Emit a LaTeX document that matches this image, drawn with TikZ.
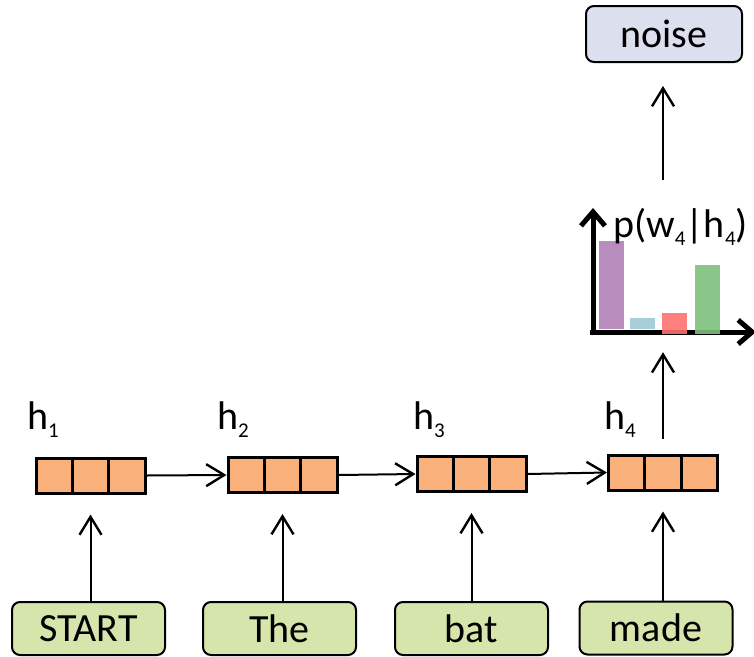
\documentclass[tikz,border=0pt]{standalone}
\usepackage{fontspec}
\setmainfont{Carlito}
\usetikzlibrary{arrows.meta,calc}

\definecolor{vecfill}{HTML}{F9B07B}
\definecolor{wordfill}{HTML}{D6E5AB}
\definecolor{outfill}{HTML}{DCDFEE}
\definecolor{barpurple}{HTML}{B080B5}
\definecolor{barblue}{HTML}{9CCAD4}
\definecolor{barred}{HTML}{FF7070}
\definecolor{bargreen}{HTML}{7DC07D}

\newcommand\lowidx[1]{\raisebox{-8pt}{\fontsize{21}{24}\selectfont #1}}

\tikzset{
  big/.style={font=\fontsize{40}{48}\selectfont},
  word/.style={big, draw, line width=2, rounded corners=8, fill=wordfill,
    minimum width=153, minimum height=53, inner sep=0},
  outword/.style={word, fill=outfill, minimum width=156, minimum height=56},
  hvec/.style={draw, line width=3, fill=vecfill, minimum width=109,
    minimum height=35, inner sep=0,
    path picture={
      \draw[line width=3]
        ($(path picture bounding box.south west)!1/3!(path picture bounding box.south east)$) --
        ($(path picture bounding box.north west)!1/3!(path picture bounding box.north east)$)
        ($(path picture bounding box.south west)!2/3!(path picture bounding box.south east)$) --
        ($(path picture bounding box.north west)!2/3!(path picture bounding box.north east)$);
    }},
  lbl/.style={big, inner sep=0, anchor=base west},
  link/.style={line width=2, -{Straight Barb[length=18pt,width=22pt,line width=2.4pt]}},
  axis/.style={line width=5, -{Straight Barb[length=14pt,width=24pt,line width=5pt]}},
  bar/.style={fill opacity=0.9}
}

\begin{document}
\begin{tikzpicture}[x=1pt, y=-1pt]
  \useasboundingbox (0,0) rectangle (754,656);

  % hidden-state vectors
  \node[hvec] (h1) at (90.5,475.5) {};
  \node[hvec] (h2) at (282.5,475) {};
  \node[hvec] (h3) at (471.5,474) {};
  \node[hvec] (h4) at (663,472.5) {};

  \node[lbl] (l1) at (27,429) {h\lowidx{1}};
  \node[lbl] (l2) at (217,429) {h\lowidx{2}};
  \node[lbl] (l3) at (413,429) {h\lowidx{3}};
  \node[lbl] (l4) at (604,429) {h\lowidx{4}};

  % input words
  \node[word] (w1) at (88.5,628.5) {START};
  \node[word] (w2) at (279.5,628.5) {The};
  \node[word] (w3) at (471.5,628.5) {bat};
  \node[word] (w4) at (656,628) {made};

  % output word
  \node[outword] (out) at (664,34) {noise};

  % recurrent connections
  \draw[link] (h1.east) -- (h2.west);
  \draw[link] (h2.east) -- (h3.west);
  \draw[link] (h3.east) -- (h4.west);

  % inputs into the hidden states
  \foreach \i in {1,2,3,4}
    \draw[link, shorten >=20] (h\i.south |- w\i.north) -- (h\i.south);

  % distribution over the next word
  \node[inner sep=0, minimum width=160, minimum height=122] (chart) at (673,271) {};
  \draw[axis] (593,334) -- (593,208);
  \draw[axis] (590,332) -- (756,332);
  \fill[barpurple, bar] (599,241) rectangle (624,329);
  \fill[barblue, bar] (630,318) rectangle (655,329);
  \fill[barred, bar] (662,313) rectangle (687,334);
  \fill[bargreen, bar] (695,265) rectangle (720,334);
  \node[lbl] (p) at (613,237) {p(w\lowidx{4}|h\lowidx{4})};

  \draw[link, shorten <=15, shorten >=20] (h4.north) -- (h4.north |- chart.south);
  \draw[link, shorten <=30, shorten >=23] (h4.north |- chart.north) -- (h4.north |- out.south);
\end{tikzpicture}
\end{document}
